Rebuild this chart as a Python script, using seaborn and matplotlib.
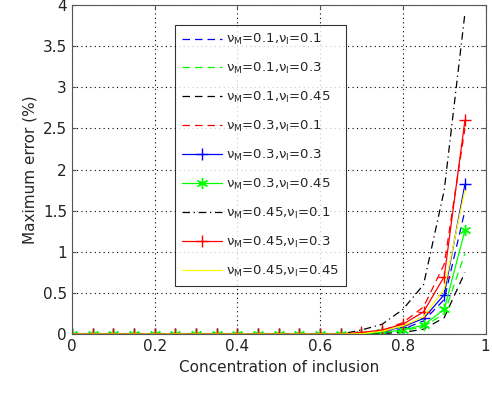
import matplotlib
matplotlib.use("Agg")
import matplotlib.pyplot as plt
import numpy as np
import pandas as pd
import seaborn as sns

conc = [0.0, 0.05, 0.1, 0.15, 0.2, 0.25, 0.3, 0.35, 0.4, 0.45,
        0.5, 0.55, 0.6, 0.65, 0.7, 0.75, 0.8, 0.85, 0.9, 0.95]

zeros14 = [0.0] * 14
err_m01_i01 = zeros14 + [0.005, 0.02, 0.06, 0.16, 0.42, 1.50]
err_m01_i03 = zeros14 + [0.003, 0.01, 0.04, 0.09, 0.25, 0.98]
err_m01_i045 = zeros14 + [0.002, 0.008, 0.02, 0.06, 0.20, 0.75]
err_m03_i01 = zeros14 + [0.01, 0.04, 0.14, 0.33, 0.85, 2.50]
err_m03_i03 = zeros14 + [0.005, 0.03, 0.09, 0.19, 0.48, 1.82]
err_m03_i045 = zeros14 + [0.003, 0.02, 0.05, 0.11, 0.30, 1.26]
err_m045_i01 = zeros14 + [0.05, 0.12, 0.30, 0.60, 1.75, 3.90]
err_m045_i03 = zeros14 + [0.02, 0.05, 0.12, 0.27, 0.70, 2.60]
err_m045_i045 = zeros14 + [0.005, 0.035, 0.10, 0.21, 0.55, 1.75]

labels = [r"$\nu_M$=0.1,$\nu_I$=0.1", r"$\nu_M$=0.1,$\nu_I$=0.3",
          r"$\nu_M$=0.1,$\nu_I$=0.45", r"$\nu_M$=0.3,$\nu_I$=0.1",
          r"$\nu_M$=0.3,$\nu_I$=0.3", r"$\nu_M$=0.3,$\nu_I$=0.45",
          r"$\nu_M$=0.45,$\nu_I$=0.1", r"$\nu_M$=0.45,$\nu_I$=0.3",
          r"$\nu_M$=0.45,$\nu_I$=0.45"]
series = [err_m01_i01, err_m01_i03, err_m01_i045, err_m03_i01, err_m03_i03,
          err_m03_i045, err_m045_i01, err_m045_i03, err_m045_i045]

colors = ["#0000ff", "#00ff00", "#000000", "#ff0000", "#0000ff",
          "#00ff00", "#000000", "#ff0000", "#ffff00"]
styles = [(0, (6, 4)), (0, (6, 4)), (0, (6, 4)), (0, (6, 4)), "-",
          "-", (0, (6, 3, 1, 3)), "-", "-"]
# MATLAB-like asterisk for the green solid series
marks = [None, None, None, None, "+", (6, 2, 0), None, "+", None]

sns.set_style("ticks")
plt.rcParams["font.family"] = ["DejaVu Sans"]
plt.rcParams["mathtext.default"] = "regular"

fig = plt.figure(figsize=(4.92, 3.94), dpi=100)
ax = fig.add_axes([0.146, 0.152, 0.841, 0.835])

for lab, vals, c, ls, m in zip(labels, series, colors, styles, marks):
    sns.lineplot(x=conc, y=vals, ax=ax, color=c, linestyle=ls, linewidth=0.9,
                 marker=m, markersize=8, markeredgewidth=1.0,
                 markeredgecolor=c, label=lab)

ax.set_xlim(0, 1)
ax.set_ylim(0, 4)
ax.set_xticks([0, 0.2, 0.4, 0.6, 0.8, 1])
ax.set_xticklabels(["0", "0.2", "0.4", "0.6", "0.8", "1"])
ax.set_yticks([0, 0.5, 1, 1.5, 2, 2.5, 3, 3.5, 4])
ax.set_yticklabels(["0", "0.5", "1", "1.5", "2", "2.5", "3", "3.5", "4"])
ax.grid(True, color="black", linestyle=(0, (1, 3)), linewidth=0.8)
ax.tick_params(direction="in", labelsize=11, top=True, right=True, length=3,
               colors="#555555", labelcolor="#222222")
for s in ax.spines.values():
    s.set_color("#555555")
    s.set_visible(True)
ax.set_xlabel("Concentration of inclusion", fontsize=11)
ax.set_ylabel("Maximum error (%)", fontsize=11)

leg = ax.legend(loc="upper left", bbox_to_anchor=(0.249, 0.94), fontsize=9.5,
                frameon=True, fancybox=False, labelspacing=1.05,
                handlelength=3.0, handletextpad=0.3, borderpad=0.55,
                borderaxespad=0.0)
leg.get_frame().set_edgecolor("black")
leg.get_frame().set_linewidth(0.8)

fig.savefig("out.png", dpi=100)
